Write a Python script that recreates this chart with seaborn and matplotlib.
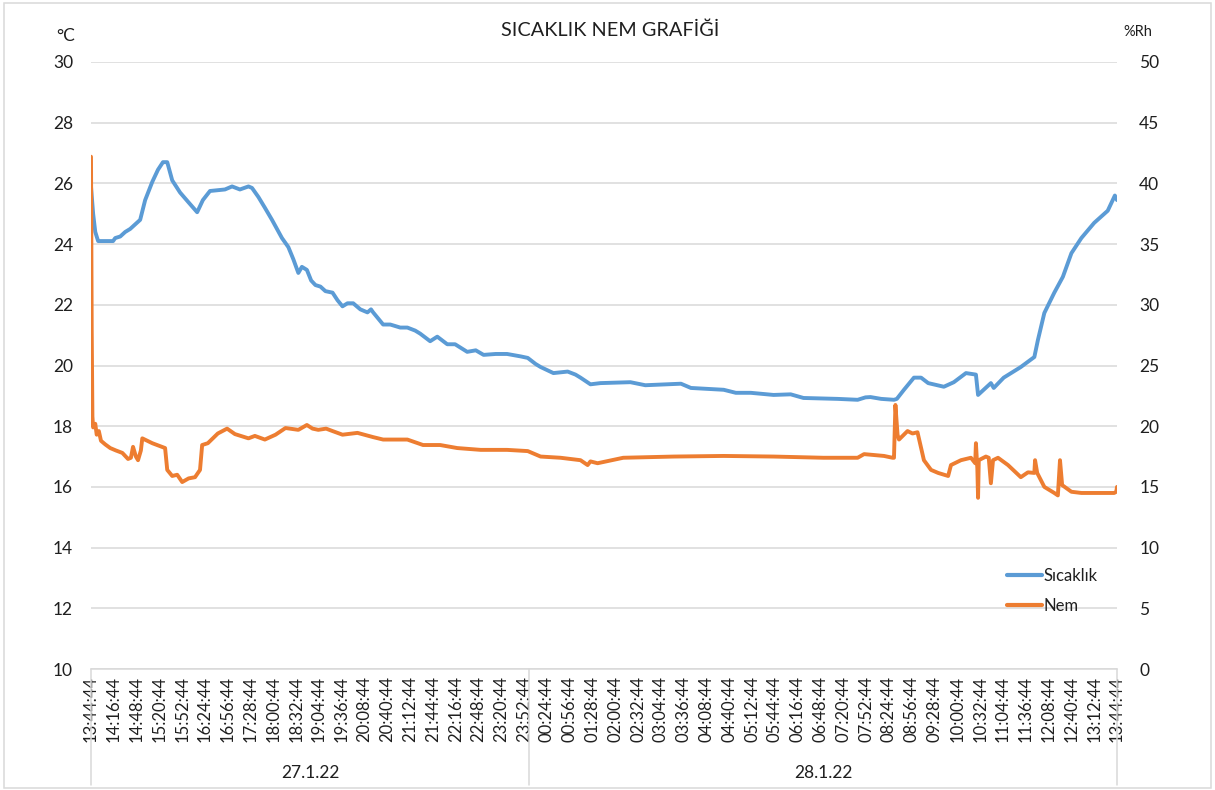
import matplotlib
matplotlib.use("Agg")
import matplotlib.pyplot as plt
from matplotlib.lines import Line2D
from matplotlib.patches import Rectangle
import seaborn as sns
import pandas as pd

# Logger readings: minutes elapsed since 27.1.22 13:44:44
temp_min = [0, 3, 6, 10, 31, 34, 41, 48, 55, 62, 69, 76, 86, 94, 101, 107, 114, 125,
            136, 149, 157, 167, 188, 198, 209, 221, 226, 235, 244, 254, 268, 277, 284,
            291, 296, 303, 309, 315, 322, 329, 339, 346, 353, 360, 368, 378, 388, 393,
            396, 410, 420, 434, 444, 455, 462, 476, 486, 500, 511, 528, 540, 551, 568,
            584, 603, 613, 624, 631, 649, 669, 680, 687, 701, 715, 757, 778, 828, 842,
            888, 905, 926, 958, 982, 1000, 1048, 1076, 1087, 1094, 1109, 1127, 1131,
            1141, 1155, 1165, 1175, 1197, 1211, 1228, 1242, 1245, 1263, 1267, 1281,
            1305, 1324, 1329, 1338, 1352, 1364, 1376, 1390, 1408, 1427, 1437, 1440]
temp_c = [25.9, 25.0, 24.4, 24.1, 24.1, 24.2, 24.25, 24.4, 24.5, 24.65, 24.8, 25.45,
          26.05, 26.45, 26.7, 26.7, 26.1, 25.7, 25.4, 25.05, 25.45, 25.75, 25.8, 25.9,
          25.8, 25.9, 25.85, 25.55, 25.2, 24.8, 24.2, 23.9, 23.5, 23.05, 23.25, 23.15,
          22.8, 22.65, 22.6, 22.45, 22.4, 22.15, 21.95, 22.05, 22.05, 21.85, 21.75,
          21.85, 21.75, 21.35, 21.35, 21.25, 21.25, 21.15, 21.05, 20.8, 20.95, 20.7,
          20.7, 20.45, 20.5, 20.35, 20.38, 20.38, 20.3, 20.25, 20.05, 19.95, 19.75,
          19.8, 19.7, 19.6, 19.38, 19.42, 19.45, 19.35, 19.4, 19.26, 19.2, 19.1, 19.1,
          19.03, 19.05, 18.93, 18.9, 18.87, 18.95, 18.96, 18.9, 18.87, 18.9, 19.2,
          19.6, 19.6, 19.42, 19.3, 19.45, 19.75, 19.7, 19.03, 19.42, 19.26, 19.6,
          19.95, 20.28, 20.84, 21.73, 22.4, 22.92, 23.7, 24.2, 24.7, 25.1, 25.6, 25.45]

hum_min = [0, 1, 2, 3, 6, 8, 11, 14, 20, 27, 35, 44, 52, 56, 59, 63, 66, 70, 72, 86,
           104, 107, 114, 121, 128, 137, 146, 153, 156, 164, 178, 191, 202, 221, 230,
           244, 259, 273, 291, 303, 311, 319, 330, 339, 353, 374, 396, 410, 444, 466,
           490, 514, 547, 584, 613, 631, 659, 687, 697, 701, 711, 747, 818, 888, 958,
           1028, 1076, 1085, 1113, 1125, 1127, 1129, 1132, 1134, 1146, 1153, 1160,
           1169, 1179, 1189, 1203, 1207, 1221, 1235, 1241, 1242, 1244, 1245, 1246,
           1256, 1260, 1263, 1266, 1273, 1287, 1305, 1315, 1324, 1325, 1328, 1338,
           1352, 1357, 1360, 1363, 1376, 1390, 1436, 1439, 1440]
hum_rh = [42.2, 28.0, 20.8, 19.9, 20.2, 19.3, 19.6, 18.8, 18.5, 18.2, 18.0, 17.8, 17.3,
          17.4, 18.3, 17.5, 17.2, 18.0, 19.0, 18.6, 18.2, 16.4, 15.9, 16.0, 15.4, 15.7,
          15.8, 16.4, 18.45, 18.6, 19.4, 19.8, 19.35, 19.0, 19.2, 18.9, 19.3, 19.85,
          19.7, 20.1, 19.8, 19.7, 19.8, 19.6, 19.3, 19.45, 19.1, 18.9, 18.9, 18.45,
          18.45, 18.2, 18.05, 18.05, 17.95, 17.5, 17.4, 17.2, 16.8, 17.1, 16.95, 17.4,
          17.5, 17.55, 17.5, 17.4, 17.4, 17.7, 17.55, 17.4, 17.4, 21.75, 19.3, 18.9,
          19.6, 19.4, 19.5, 17.2, 16.4, 16.15, 15.9, 16.8, 17.2, 17.4, 16.95, 18.6,
          16.5, 14.1, 17.2, 17.5, 17.4, 15.3, 17.2, 17.4, 16.8, 15.8, 16.2, 16.15,
          17.2, 16.15, 15.0, 14.5, 14.3, 17.2, 15.15, 14.6, 14.5, 14.5, 14.6, 15.0]

tick_labels = ["13:44:44", "14:16:44", "14:48:44", "15:20:44", "15:52:44", "16:24:44",
               "16:56:44", "17:28:44", "18:00:44", "18:32:44", "19:04:44", "19:36:44",
               "20:08:44", "20:40:44", "21:12:44", "21:44:44", "22:16:44", "22:48:44",
               "23:20:44", "23:52:44", "00:24:44", "00:56:44", "01:28:44", "02:00:44",
               "02:32:44", "03:04:44", "03:36:44", "04:08:44", "04:40:44", "05:12:44",
               "05:44:44", "06:16:44", "06:48:44", "07:20:44", "07:52:44", "08:24:44",
               "08:56:44", "09:28:44", "10:00:44", "10:32:44", "11:04:44", "11:36:44",
               "12:08:44", "12:40:44", "13:12:44", "13:44:44"]
tick_step = 32            # minutes between labelled readings
day_labels = ["27.1.22", "28.1.22"]
midnight = 615.27         # minutes from start to 00:00:00
total_min = 1440

temp_df = pd.DataFrame({"dk": temp_min, "Sıcaklık": temp_c})
hum_df = pd.DataFrame({"dk": hum_min, "Nem": hum_rh})

sns.set_theme(style="white")
plt.rcParams["font.family"] = ["Lato", "DejaVu Sans"]
TXT = "#1f1f1f"
GRID = "#d9d9d9"
BLUE = "#5B9BD5"
ORANGE = "#ED7D31"

W, H = 1215, 790
fig = plt.figure(figsize=(W / 100, H / 100), dpi=100)
ax = fig.add_axes([91 / W, 1 - 669 / H, (1117 - 91) / W, (669 - 62) / H])
ax2 = ax.twinx()

sns.lineplot(data=temp_df, x="dk", y="Sıcaklık", ax=ax, color=BLUE, linewidth=2.8,
             estimator=None, sort=False, zorder=3)
sns.lineplot(data=hum_df, x="dk", y="Nem", ax=ax2, color=ORANGE, linewidth=2.8,
             estimator=None, sort=False, zorder=3)

ax.set_xlim(0, total_min)
ax.set_ylim(10, 30)
ax2.set_ylim(0, 50)
ax.set_yticks(range(10, 31, 2))
ax2.set_yticks(range(0, 51, 5))
ax.set_xticks([i * tick_step for i in range(len(tick_labels))])
ax.set_xticklabels(tick_labels, rotation=90, fontsize=12, color=TXT)
ax.tick_params(axis="x", length=0, pad=5)
ax.tick_params(axis="y", length=0, pad=13, labelsize=12.5, labelcolor=TXT)
ax2.tick_params(axis="y", length=0, pad=16, labelsize=12.5, labelcolor=TXT)
for a in (ax, ax2):
    a.set_xlabel("")
    a.set_ylabel("")
    for s in a.spines.values():
        s.set_visible(False)
ax.grid(axis="y", color=GRID, linewidth=1.1)
ax.grid(axis="x", visible=False)
ax.set_axisbelow(True)
ax.spines["bottom"].set_visible(True)
ax.spines["bottom"].set_color(GRID)
ax.spines["bottom"].set_linewidth(1.1)

# Date group separators and labels under the time axis
tr = ax.get_xaxis_transform()
for xv in (0, midnight, total_min):
    ax.plot([xv, xv], [0, -116 / 607], transform=tr, color=GRID, linewidth=1.1,
            clip_on=False)
ax.text(midnight / 2, -104 / 607, day_labels[0], transform=tr, ha="center",
        va="center", fontsize=12.5, color=TXT)
ax.text((midnight + total_min) / 2, -104 / 607, day_labels[1], transform=tr,
        ha="center", va="center", fontsize=12.5, color=TXT)

fig.text(610 / W, 1 - 30 / H, "SICAKLIK NEM GRAFİĞİ", ha="center", va="center",
         fontsize=14.3, color=TXT)
fig.text(66 / W, 1 - 36 / H, "°C", ha="center", va="center", fontsize=12.5, color=TXT)
fig.text(1138 / W, 1 - 32 / H, "%Rh", ha="center", va="center", fontsize=10.5,
         color=TXT)

handles = [Line2D([], [], color=BLUE, linewidth=3),
           Line2D([], [], color=ORANGE, linewidth=3)]
fig.legend(handles, ["Sıcaklık", "Nem"], loc="upper left",
           bbox_to_anchor=(1000 / W, 1 - 561 / H), frameon=False, fontsize=12,
           handlelength=2.1, handletextpad=0.1, labelspacing=0.85,
           labelcolor=TXT, borderaxespad=0)

fig.patches.append(Rectangle((4 / W, 2 / H), (W - 8) / W, (H - 5) / H,
                             transform=fig.transFigure, fill=False,
                             edgecolor=GRID, linewidth=1.1))

fig.savefig("out.png", dpi=100)
